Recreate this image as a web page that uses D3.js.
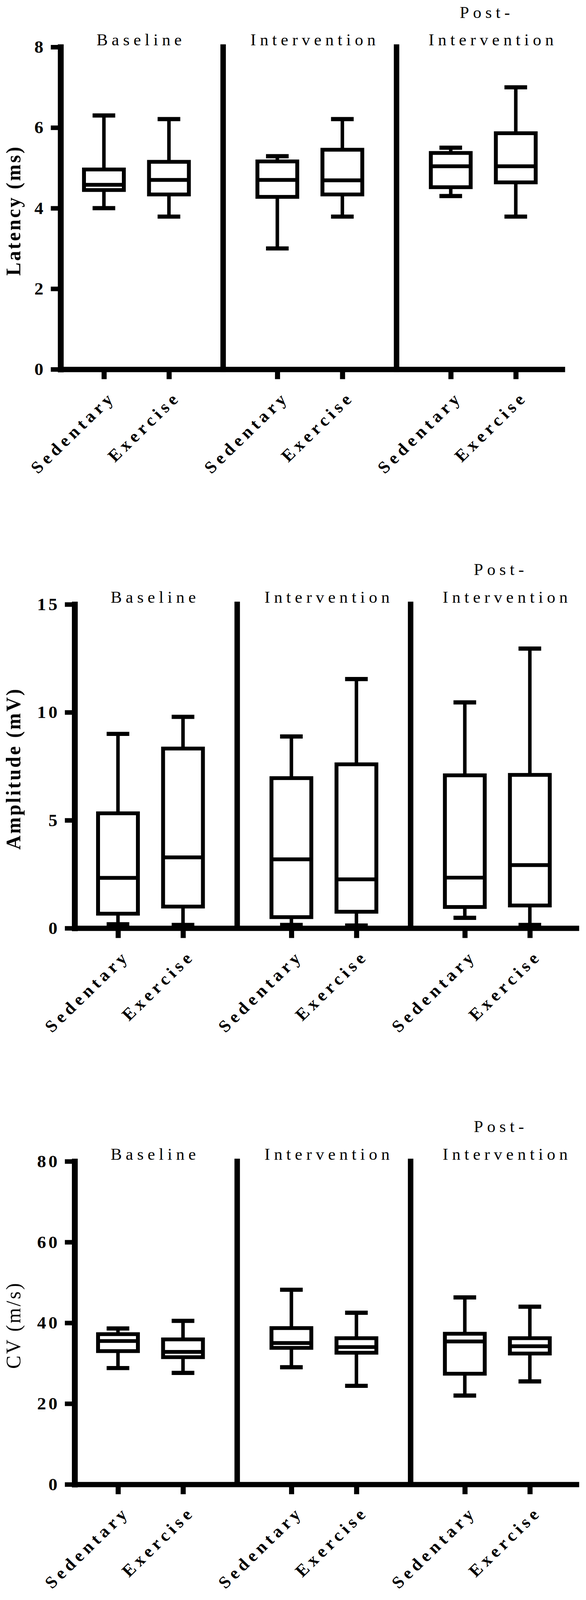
<!DOCTYPE html>
<html>
<head>
<meta charset="utf-8">
<script src="https://cdn.jsdelivr.net/npm/d3@7"></script>
<style>
  html, body { margin: 0; padding: 0; background: #fff; overflow: hidden; width: 100%; height: 100%; }
  #chart { width: 100vw; height: 100vh; }
  svg { display: block; width: 100vw; height: 100vh; }
</style>
</head>
<body>
<div id="chart"></div>
<script>
// ---------------- DATA ----------------
const phases = ["Baseline", "Intervention", "Post-Intervention"];
const phaseTitleLines = [["Baseline"], ["Intervention"], ["Post-", "Intervention"]];
const groups = ["Sedentary", "Exercise"];
// order of boxes: Baseline-Sed, Baseline-Ex, Intervention-Sed, Intervention-Ex, Post-Sed, Post-Ex

const latencyTitle = "Latency (ms)";
const latencyTicks = [0, 2, 4, 6, 8];
const latencyMin    = [4.00, 3.79, 3.00, 3.79, 4.30, 3.79];
const latencyQ1     = [4.45, 4.34, 4.28, 4.34, 4.52, 4.64];
const latencyMedian = [4.58, 4.70, 4.70, 4.69, 5.04, 5.04];
const latencyQ3     = [4.96, 5.15, 5.16, 5.45, 5.37, 5.86];
const latencyMax    = [6.30, 6.21, 5.29, 6.21, 5.50, 7.00];

const amplitudeTitle = "Amplitude (mV)";
const amplitudeTicks = [0, 5, 10, 15];
const amplitudeMin    = [0.18, 0.15, 0.15, 0.12, 0.48, 0.15];
const amplitudeQ1     = [0.67, 1.00, 0.51, 0.76, 0.98, 1.05];
const amplitudeMedian = [2.33, 3.28, 3.19, 2.26, 2.34, 2.92];
const amplitudeQ3     = [5.32, 8.32, 6.95, 7.59, 7.08, 7.10];
const amplitudeMax    = [9.00, 9.79, 8.88, 11.54, 10.46, 12.95];

const cvTitle = "CV (m/s)";
const cvTicks = [0, 20, 40, 60, 80];
const cvMin    = [28.8, 27.6, 29.0, 24.4, 22.0, 25.5];
const cvQ1     = [33.0, 31.5, 33.8, 32.6, 27.4, 32.4];
const cvMedian = [35.5, 32.8, 35.0, 34.0, 35.4, 34.2];
const cvQ3     = [37.2, 35.9, 38.7, 36.2, 37.3, 36.2];
const cvMax    = [38.6, 40.5, 48.2, 42.5, 46.3, 44.0];

// ---------------- LAYOUT ----------------
const W = 1500, H = 4220;
const FONT = "'Liberation Serif', 'Times New Roman', serif";
const panelLayout = [
  { axisX: 155, top: 124,  zero: 974,  titleWeight: "bold" },
  { axisX: 191, top: 1594, zero: 2448, titleWeight: "bold" },
  { axisX: 191, top: 3063, zero: 3915, titleWeight: "normal" }
];
const slotMax = 23.14, axisLen = 1284;
const titleDx = [[12], [13], [9, 25]];

const panels = [
  { title: latencyTitle, ticks: latencyTicks, min: latencyMin, q1: latencyQ1, med: latencyMedian, q3: latencyQ3, max: latencyMax },
  { title: amplitudeTitle, ticks: amplitudeTicks, min: amplitudeMin, q1: amplitudeQ1, med: amplitudeMedian, q3: amplitudeQ3, max: amplitudeMax },
  { title: cvTitle, ticks: cvTicks, min: cvMin, q1: cvQ1, med: cvMedian, q3: cvQ3, max: cvMax }
];

const svg = d3.select("#chart").append("svg")
  .attr("viewBox", `0 0 ${W} ${H}`)
  .attr("preserveAspectRatio", "none");
svg.append("rect").attr("width", W).attr("height", H).attr("fill", "#fff");

panels.forEach((p, pi) => {
  const L = panelLayout[pi];
  const g = svg.append("g");
  const tmax = d3.max(p.ticks);
  const y = d3.scaleLinear().domain([0, tmax]).range([L.zero, L.top]);
  const x = d3.scaleLinear().domain([0, slotMax]).range([L.axisX, L.axisX + axisLen]);

  const boxes = [];
  phases.forEach((ph, phi) => {
    groups.forEach((gr, gi) => {
      const i = phi * 2 + gi;
      boxes.push({ phase: ph, group: gr, slot: phi * 8 + 2 + gi * 3,
        min: p.min[i], q1: p.q1[i], med: p.med[i], q3: p.q3[i], max: p.max[i] });
    });
  });

  const boxW = 112, capW = 58;
  const bg = g.append("g");
  bg.selectAll("line.wh-up").data(boxes).join("line").attr("class", "wh-up")
    .attr("x1", d => x(d.slot)).attr("x2", d => x(d.slot))
    .attr("y1", d => y(d.q3)).attr("y2", d => y(d.max))
    .attr("stroke", "#000").attr("stroke-width", 9);
  bg.selectAll("line.wh-dn").data(boxes).join("line").attr("class", "wh-dn")
    .attr("x1", d => x(d.slot)).attr("x2", d => x(d.slot))
    .attr("y1", d => y(d.q1)).attr("y2", d => y(d.min))
    .attr("stroke", "#000").attr("stroke-width", 9);
  bg.selectAll("line.cap-up").data(boxes).join("line").attr("class", "cap-up")
    .attr("x1", d => x(d.slot) - capW / 2).attr("x2", d => x(d.slot) + capW / 2)
    .attr("y1", d => y(d.max)).attr("y2", d => y(d.max))
    .attr("stroke", "#000").attr("stroke-width", 11);
  bg.selectAll("line.cap-dn").data(boxes).join("line").attr("class", "cap-dn")
    .attr("x1", d => x(d.slot) - capW / 2).attr("x2", d => x(d.slot) + capW / 2)
    .attr("y1", d => y(d.min)).attr("y2", d => y(d.min))
    .attr("stroke", "#000").attr("stroke-width", 11);
  bg.selectAll("rect.box").data(boxes).join("rect").attr("class", "box")
    .attr("x", d => x(d.slot) - (boxW - 10) / 2)
    .attr("width", boxW - 10)
    .attr("y", d => y(d.q3))
    .attr("height", d => y(d.q1) - y(d.q3))
    .attr("fill", "#fff").attr("stroke", "#000").attr("stroke-width", 10);
  bg.selectAll("line.med").data(boxes).join("line").attr("class", "med")
    .attr("x1", d => x(d.slot) - (boxW - 10) / 2).attr("x2", d => x(d.slot) + (boxW - 10) / 2)
    .attr("y1", d => y(d.med)).attr("y2", d => y(d.med))
    .attr("stroke", "#000").attr("stroke-width", 10);

  // dividers between phases
  g.selectAll("line.div").data([7.5, 15.5]).join("line").attr("class", "div")
    .attr("x1", d => x(d)).attr("x2", d => x(d))
    .attr("y1", y(tmax)).attr("y2", y(0))
    .attr("stroke", "#000").attr("stroke-width", 14).attr("stroke-linecap", "square");

  // y axis
  const ya = g.append("g").attr("transform", `translate(${L.axisX},0)`)
    .call(d3.axisLeft(y).tickValues(p.ticks).tickSize(25).tickSizeOuter(0).tickPadding(13));
  ya.select(".domain").attr("stroke", "#000").attr("stroke-width", 15).attr("stroke-linecap", "square");
  ya.selectAll(".tick line").attr("stroke", "#000").attr("stroke-width", 12);
  ya.selectAll(".tick text")
    .attr("fill", "#000")
    .style("font-family", FONT).style("font-size", "46px").style("font-weight", "bold")
    .style("letter-spacing", "6px");

  // x axis
  const xa = g.append("g").attr("transform", `translate(0,${L.zero})`)
    .call(d3.axisBottom(x).tickValues(boxes.map(d => d.slot)).tickSize(26).tickSizeOuter(0)
      .tickFormat((d, i) => boxes[i].group));
  xa.select(".domain").attr("stroke", "#000").attr("stroke-width", 14).attr("stroke-linecap", "square");
  xa.selectAll(".tick line").attr("stroke", "#000").attr("stroke-width", 13);
  xa.selectAll(".tick text")
    .attr("x", 0).attr("y", 0).attr("dy", 0)
    .attr("transform", "translate(32,76) rotate(-45)")
    .attr("fill", "#000")
    .style("text-anchor", "end")
    .style("font-family", FONT).style("font-size", "45px").style("font-weight", "bold")
    .style("letter-spacing", "10px");

  // phase titles
  phaseTitleLines.forEach((lines, phi) => {
    const cx = x(phi * 8 + 3.5);
    lines.forEach((ln, li) => {
      g.append("text")
        .attr("x", cx + titleDx[phi][li])
        .attr("y", L.top - 4 - (lines.length - 1 - li) * 73)
        .attr("text-anchor", "middle")
        .style("font-family", FONT).style("font-size", "43px").style("font-weight", "normal")
        .style("letter-spacing", "10px")
        .attr("fill", "#000")
        .text(ln);
    });
  });

  // y axis title
  g.append("text")
    .attr("transform", `translate(52,${(L.top + L.zero) / 2 + 6}) rotate(-90)`)
    .attr("text-anchor", "middle")
    .style("font-family", FONT).style("font-size", "52px").style("font-weight", L.titleWeight)
    .style("letter-spacing", "4.5px")
    .attr("fill", "#000")
    .text(p.title);
});
</script>
</body>
</html>
